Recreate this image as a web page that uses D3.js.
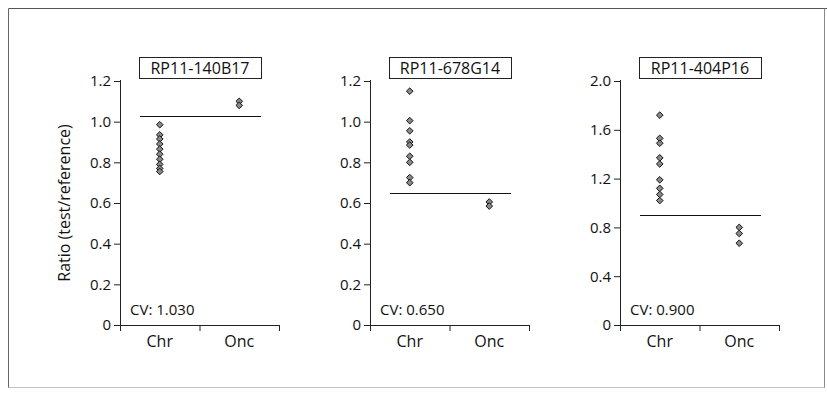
<!DOCTYPE html>
<html>
<head>
<meta charset="utf-8">
<script src="https://cdn.jsdelivr.net/npm/d3@7"></script>
<style>
  body { margin: 0; background: #fff; }
  svg text { font-family: "Open Sans", "Noto Sans", sans-serif; fill: #111; }
</style>
</head>
<body>
<div id="chart"></div>
<script>
// groups on the x axis
var groups = ['Chr', 'Onc'];

// clone names
var clones = ['RP11-140B17', 'RP11-678G14', 'RP11-404P16'];

// cut values
var cvValues = [1.03, 0.65, 0.90];
var cvLabels = ['CV: 1.030', 'CV: 0.650', 'CV: 0.900'];

// y domain and ticks per panel
var yMax = [1.2, 1.2, 2.0];
var yTicks1 = [0, 0.2, 0.4, 0.6, 0.8, 1.0, 1.2];
var yTicks2 = [0, 0.2, 0.4, 0.6, 0.8, 1.0, 1.2];
var yTicks3 = [0, 0.4, 0.8, 1.2, 1.6, 2.0];

// ratios
var chr1 = [0.985, 0.935, 0.915, 0.89, 0.865, 0.84, 0.815, 0.79, 0.77, 0.755];
var onc1 = [1.10, 1.08];
var chr2 = [1.15, 1.005, 0.955, 0.90, 0.885, 0.83, 0.80, 0.725, 0.70];
var onc2 = [0.605, 0.585];
var chr3 = [1.72, 1.53, 1.49, 1.37, 1.32, 1.19, 1.12, 1.07, 1.02];
var onc3 = [0.80, 0.75, 0.67];

var panels = [
  { name: clones[0], cv: cvValues[0], cvText: cvLabels[0], max: yMax[0], ticks: yTicks1, chr: chr1, onc: onc1 },
  { name: clones[1], cv: cvValues[1], cvText: cvLabels[1], max: yMax[1], ticks: yTicks2, chr: chr2, onc: onc2 },
  { name: clones[2], cv: cvValues[2], cvText: cvLabels[2], max: yMax[2], ticks: yTicks3, chr: chr3, onc: onc3 }
];

var width = 827, height = 400;
var panelLeft = [120, 370, 620];
var pw = 159, yTop = 81, yBottom = 325;

var svg = d3.select('#chart').append('svg')
  .attr('width', width)
  .attr('height', height);

// outer frame
svg.append('line').attr('x1', 8.5).attr('x2', 827).attr('y1', 8.5).attr('y2', 8.5)
  .attr('stroke', '#555');
svg.append('line').attr('x1', 8.5).attr('x2', 8.5).attr('y1', 8.5).attr('y2', 388)
  .attr('stroke', '#666');
svg.append('line').attr('x1', 824.5).attr('x2', 824.5).attr('y1', 8.5).attr('y2', 388)
  .attr('stroke', '#888');
svg.append('line').attr('x1', 8.5).attr('x2', 824.5).attr('y1', 387.5).attr('y2', 387.5)
  .attr('stroke', '#c4c4c4');

var diamond = d3.symbol().type(d3.symbolDiamond2).size(28);

panels.forEach(function (p, i) {
  var g = svg.append('g').attr('transform', 'translate(' + panelLeft[i] + ',0)');

  var y = d3.scaleLinear().domain([0, p.max]).range([yBottom, yTop]);
  var x = d3.scalePoint().domain(groups).range([0, pw]).padding(0.5);

  // y axis
  var yAxis = d3.axisLeft(y).tickValues(p.ticks).tickSize(6).tickPadding(3)
    .tickFormat(function (d) { return d === 0 ? '0' : d3.format('.1f')(d); });
  var ya = g.append('g').call(yAxis);
  ya.select('.domain').remove();
  ya.append('line').attr('x1', 0.5).attr('x2', 0.5).attr('y1', yTop - 1).attr('y2', yBottom + 6)
    .attr('stroke', '#222');
  ya.selectAll('.tick line').attr('stroke', '#222');
  ya.selectAll('.tick text').style('font-size', '15px').attr('fill', '#111');

  // x axis with ticks at the borders of the groups
  var xb = d3.scaleLinear().domain([0, 2]).range([0, pw]);
  var xa = g.append('g').attr('transform', 'translate(0,' + yBottom + ')')
    .call(d3.axisBottom(xb).tickValues([0, 1, 2]).tickSize(6).tickFormat(''));
  xa.select('.domain').attr('d', 'M0.5,0.5H' + pw).attr('stroke', '#222');
  xa.selectAll('.tick line').attr('stroke', '#222');

  g.selectAll('.glabel').data(groups).enter().append('text')
    .attr('class', 'glabel')
    .attr('x', function (d) { return x(d); })
    .attr('y', yBottom + 22)
    .attr('text-anchor', 'middle')
    .style('font-size', '16px')
    .text(function (d) { return d; });

  // cut line
  g.append('line')
    .attr('x1', 20).attr('x2', 141)
    .attr('y1', Math.round(y(p.cv)) + 0.5).attr('y2', Math.round(y(p.cv)) + 0.5)
    .attr('stroke', '#111');

  // points
  var pts = p.chr.map(function (v) { return { g: 'Chr', v: v }; })
    .concat(p.onc.map(function (v) { return { g: 'Onc', v: v }; }));
  g.selectAll('.pt').data(pts).enter().append('path')
    .attr('class', 'pt')
    .attr('d', diamond)
    .attr('transform', function (d) { return 'translate(' + x(d.g) + ',' + y(d.v) + ')'; })
    .attr('fill', '#8a8a8a')
    .attr('stroke', '#111')
    .attr('stroke-width', 1);

  // CV text
  g.append('text').attr('x', 10).attr('y', yBottom - 10)
    .style('font-size', '15px').text(p.cvText);

  // title box
  var tw = 122;
  g.append('rect').attr('x', 80 - tw / 2 + 0.5).attr('y', 57.5)
    .attr('width', tw).attr('height', 21)
    .attr('fill', '#fff').attr('stroke', '#222');
  g.append('text').attr('x', 80).attr('y', 74)
    .attr('text-anchor', 'middle')
    .style('font-size', '16px').text(p.name);
});

// y axis title
svg.append('text')
  .attr('transform', 'translate(70,' + ((yTop + yBottom) / 2) + ') rotate(-90)')
  .attr('text-anchor', 'middle')
  .style('font-size', '16px')
  .text('Ratio (test/reference)');
</script>
</body>
</html>
